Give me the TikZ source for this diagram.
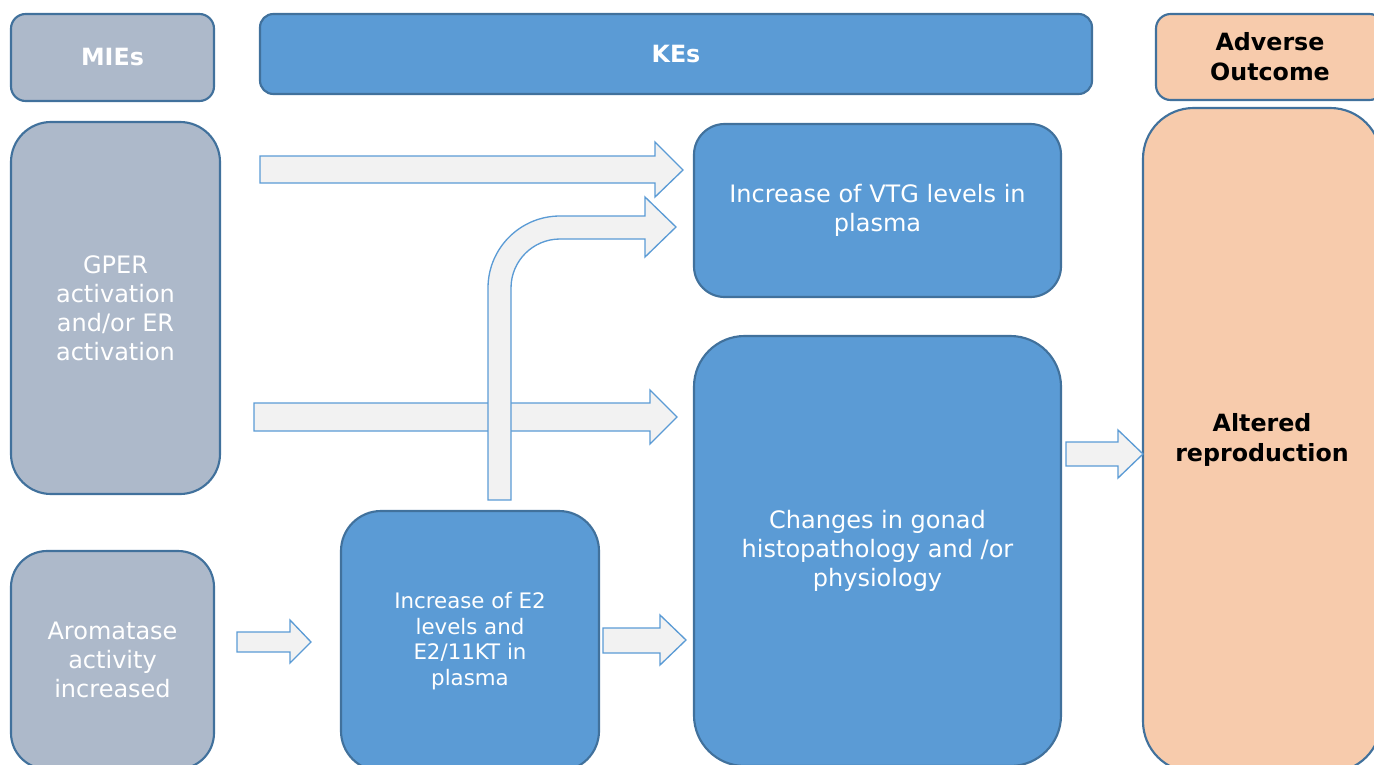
\documentclass[tikz,border=0pt]{standalone}
\usepackage{fontspec}
\setmainfont{DejaVu Sans}
\definecolor{miegray}{HTML}{ADB9CA}
\definecolor{keblue}{HTML}{5B9BD5}
\definecolor{aopeach}{HTML}{F7CBAC}
\definecolor{bord}{HTML}{41719C}
\definecolor{arrfill}{HTML}{F2F2F2}
\definecolor{arrdraw}{HTML}{5B9BD5}
\newcommand\bx[8]{\node[#1, rounded corners=#8, minimum width={(#4-#2)*0.75pt}, minimum height={(#5-#3)*0.75pt}] (#6) at ({(#2+#4)/2},{(#3+#5)/2}) {#7};}
\tikzset{
  base/.style={draw=bord, line width=1.6pt, inner sep=0pt, align=center, font=\fontsize{18}{21.75}\selectfont},
  graybox/.style={base, fill=miegray, text=white},
  bluebox/.style={base, fill=keblue, text=white},
  peachbox/.style={base, fill=aopeach, text=black},
  hdr/.style={font=\fontsize{17.8}{22.5}\selectfont\bfseries},
  blockarrow/.style={fill=arrfill, draw=arrdraw, line width=1pt, line join=miter},
}
\begin{document}
\begin{tikzpicture}[x=0.75pt, y=-0.75pt]
\useasboundingbox (0,0) rectangle (1374,764);
\clip (0,0) rectangle (1374,764);
% headers
\bx{graybox,hdr}{11}{14}{214}{101}{mies}{MIEs}{11pt}
\bx{bluebox,hdr}{260}{14}{1092}{94}{kes}{KEs}{10pt}
\bx{peachbox,hdr}{1156}{14}{1384}{100}{ao}{Adverse\\Outcome}{11pt}
% MIE boxes
\bx{graybox}{11}{122}{220}{494}{gper}{GPER\\activation\\and/or ER\\activation}{30pt}
\bx{graybox}{11}{551}{214}{769}{arom}{Aromatase\\activity\\increased}{27pt}
% KE boxes
\bx{bluebox,font=\fontsize{16}{19.1}\selectfont}{341}{511}{599}{771}{e2}{Increase of E2\\levels and\\E2/11KT in\\plasma}{30pt}
\bx{bluebox}{694}{124}{1061}{297}{vtg}{Increase of VTG levels in\\plasma}{23pt}
\bx{bluebox}{694}{336}{1061}{766}{gonad}{Changes in gonad\\histopathology and /or\\physiology}{38pt}
% AO box
\bx{peachbox,hdr}{1143}{108}{1381}{772}{alt}{Altered\\reproduction}{38pt}
% block arrows
\draw[blockarrow] (260,156)--(655,156)--(655,142)--(683,170)--(655,197)--(655,183)--(260,183)--cycle;
\draw[blockarrow] (254,403)--(650,403)--(650,390)--(677,417)--(650,444)--(650,431)--(254,431)--cycle;
\draw[blockarrow] (488,500)--(488,288) arc[start angle=180, end angle=270, radius=72]
  --(645,216)--(645,197)--(676,227)--(645,257)--(645,239)--(560,239)
  arc[start angle=270, end angle=180, radius=49]--(511,500)--cycle;
\draw[blockarrow] (237,632)--(290,632)--(290,620)--(311,642)--(290,663)--(290,652)--(237,652)--cycle;
\draw[blockarrow] (603,628)--(660,628)--(660,615)--(686,640)--(660,665)--(660,653)--(603,653)--cycle;
\draw[blockarrow] (1066,442)--(1118,442)--(1118,430)--(1143,454)--(1118,478)--(1118,466)--(1066,466)--cycle;
\end{tikzpicture}
\end{document}
